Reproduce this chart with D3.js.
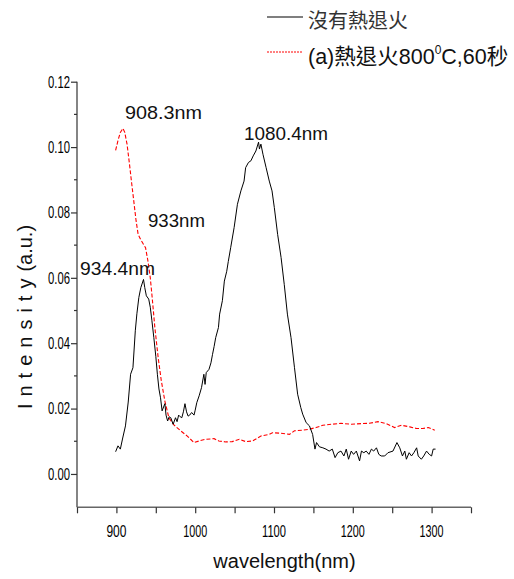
<!DOCTYPE html>
<html><head><meta charset="utf-8">
<script src="https://cdn.jsdelivr.net/npm/d3@7"></script>
<style>
html,body{margin:0;padding:0;background:#fff;}
svg{display:block;font-family:"Liberation Sans",Arial,"Noto Sans CJK TC",sans-serif;}
</style></head>
<body><svg id="chart" width="514" height="579"></svg>
<script>
// ---- data ----
const blackNm = [899,902,905,908,911.5,915,918,921,924,926,928.5,931,934.4,936,938,941,943,945,947.5,950,952,954,956,958,961.5,963,965,967,969,972,975,977,979,981,983,985,987,989,991,993,995.5,998.5,1000,1002,1005,1008,1011,1012.5,1014,1017.5,1020,1022,1024,1026,1029.5,1031,1034.5,1037,1040,1042,1045,1049.4,1053.6,1058,1062,1064,1067.6,1070.7,1073.6,1077,1080.4,1081.5,1083.4,1086,1090,1094,1097.5,1100.4,1104.6,1109,1113,1117,1121.6,1126,1130,1134,1136.4,1140.8,1145,1149,1152,1154,1157.7,1162,1166,1170,1174,1177.5,1181,1185,1188.7,1191.7,1194.6,1198,1201,1204.5,1208.6,1211,1214,1217,1220.5,1223.6,1226.5,1230,1233,1236,1240.5,1244.6,1251,1256,1259.6,1263,1266,1268,1271.5,1274.5,1277.5,1281,1283,1287,1290,1293.6,1297,1300,1302,1305];
const blackVal = [0.0068,0.0086,0.0076,0.011,0.0147,0.022,0.0305,0.0325,0.0438,0.049,0.054,0.057,0.0595,0.057,0.0545,0.0535,0.051,0.047,0.0417,0.036,0.0305,0.026,0.0233,0.0193,0.0215,0.018,0.0162,0.0175,0.0172,0.0152,0.0172,0.016,0.018,0.0175,0.0172,0.019,0.0215,0.019,0.0177,0.018,0.0188,0.018,0.0195,0.0218,0.0239,0.0264,0.0305,0.0274,0.031,0.032,0.034,0.0366,0.039,0.0417,0.0448,0.0489,0.053,0.059,0.062,0.065,0.0692,0.0754,0.0825,0.0866,0.0896,0.0937,0.0953,0.0958,0.0973,0.0988,0.1015,0.0994,0.1009,0.0978,0.0937,0.0896,0.0866,0.0815,0.0733,0.0662,0.058,0.0489,0.0417,0.0325,0.0244,0.0203,0.0183,0.0157,0.0147,0.0121,0.0076,0.0096,0.0083,0.008,0.0076,0.007,0.0076,0.005,0.0065,0.007,0.0055,0.0076,0.0045,0.007,0.006,0.007,0.004,0.007,0.0065,0.007,0.006,0.0076,0.007,0.008,0.006,0.0055,0.0055,0.0065,0.007,0.0096,0.008,0.0055,0.007,0.0045,0.0065,0.0055,0.0065,0.008,0.0055,0.0045,0.0055,0.007,0.006,0.0055,0.0076,0.0076];
const redNm = [899,902,905,908.3,910.6,913.5,916.6,919,922,925,927.6,930.6,933,937,940,943,945.4,948.8,953,957,961.5,966.6,973,981.5,990,998.5,1005,1013,1024,1030,1039,1047,1056,1064,1073,1083.4,1094,1098,1106.7,1115,1119.5,1126,1136.4,1145,1153.5,1162,1172.6,1185,1198,1211,1221,1232,1242.6,1253,1262,1272.4,1281,1289,1296,1304];
const redVal = [0.099,0.102,0.1045,0.1057,0.1045,0.1009,0.0948,0.0897,0.0836,0.0774,0.0733,0.0718,0.0708,0.0692,0.0652,0.06,0.054,0.0448,0.0356,0.0285,0.0223,0.0172,0.015,0.0132,0.0116,0.0096,0.0101,0.0106,0.0108,0.0101,0.0098,0.0099,0.0106,0.0099,0.0101,0.0116,0.0121,0.0126,0.0125,0.0123,0.0121,0.0132,0.0134,0.0137,0.0142,0.0149,0.0152,0.0155,0.0152,0.0154,0.0155,0.016,0.0154,0.0142,0.0149,0.0144,0.0139,0.0139,0.0142,0.0134];
const xMajorTicks = [900,1000,1100,1200,1300];
const xMinorTicks = [850,950,1050,1150,1250,1350];
const yMajorTicks = [0.00,0.02,0.04,0.06,0.08,0.10,0.12];
const yMinorTicks = [0.01,0.03,0.05,0.07,0.09,0.11];
const yTickLabels = ["0.00","0.02","0.04","0.06","0.08","0.10","0.12"];
const legendLabels = ["沒有熱退火", "(a)熱退火800", "0", "C,60秒"];
const peakLabels = [
  {text:"908.3nm", nm:908.3, v:0.1057},
  {text:"1080.4nm", nm:1080.4, v:0.1015},
  {text:"933nm", nm:933, v:0.0708},
  {text:"934.4nm", nm:934.4, v:0.0595}
];

// ---- chart ----
const svg = d3.select("#chart");
const x = d3.scaleLinear().domain([850,1350]).range([77,471]);
const y = d3.scaleLinear().domain([-0.0102,0.12]).range([507.3,81.7]);
const axisColor = "#666";

// x axis
const gx = svg.append("g").attr("transform","translate(0,507.3)");
gx.call(d3.axisBottom(x).tickValues(xMajorTicks.concat(xMinorTicks)).tickSize(6).tickFormat(""))
gx.select(".domain").attr("stroke",axisColor).attr("stroke-width",1.6).attr("d","M77,0H471");
gx.selectAll(".tick line").attr("stroke","#333").attr("stroke-width",1.2);
gx.selectAll(".xlab").data(xMajorTicks).enter().append("text")
  .attr("x",d=>x(d)).attr("y",29.5).attr("text-anchor","middle")
  .attr("font-size",16.5).attr("fill","#000")
  .attr("textLength",d=>String(d).length>3?24:20).attr("lengthAdjust","spacingAndGlyphs")
  .text(d=>String(d));

// y axis
const gy = svg.append("g").attr("transform","translate(77,0)");
gy.call(d3.axisLeft(y).tickValues(yMajorTicks).tickSize(6).tickFormat(""));
gy.select(".domain").attr("stroke",axisColor).attr("stroke-width",1.6).attr("d","M0,81.7V507.3");
gy.selectAll(".tick line").attr("stroke","#333").attr("stroke-width",1.2);
gy.selectAll(".minor").data(yMinorTicks).enter().append("line").attr("class","minor")
  .attr("x1",-3).attr("x2",0).attr("y1",d=>y(d)).attr("y2",d=>y(d))
  .attr("stroke","#333").attr("stroke-width",1.2);
gy.selectAll(".ylab").data(yMajorTicks).enter().append("text")
  .attr("x",-7).attr("y",d=>y(d)+5.8).attr("text-anchor","end")
  .attr("font-size",16.5).attr("fill","#000")
  .attr("textLength",22).attr("lengthAdjust","spacingAndGlyphs")
  .text((d,i)=>yTickLabels[i]);

// axis titles
svg.append("text").attr("x",284.5).attr("y",568).attr("text-anchor","middle")
  .attr("font-size",20).attr("fill","#111").text("wavelength(nm)");
const yt = svg.append("text").attr("transform","translate(32,317) rotate(-90)")
  .attr("text-anchor","middle").attr("font-size",20).attr("fill","#111");
yt.append("tspan").attr("letter-spacing",7).text("Intensity");
yt.append("tspan").text("(a.u.)");

// lines
const line = d3.line().x(d=>x(d[0])).y(d=>y(d[1]));
const blackData = blackNm.map((n,i)=>[n,blackVal[i]]);
const redData = redNm.map((n,i)=>[n,redVal[i]]);
svg.append("path").datum(redData).attr("d",line).attr("fill","none")
  .attr("stroke","#ff0000").attr("stroke-width",1.1).attr("stroke-dasharray","4,2");
svg.append("path").datum(blackData).attr("d",line).attr("fill","none")
  .attr("stroke","#000").attr("stroke-width",1);

// peak labels
const peakPos = {"908.3nm":[125,119,77],"1080.4nm":[244,140,84],"933nm":[148,226.5,57],"934.4nm":[80,275,75]};
svg.selectAll(".peak").data(peakLabels).enter().append("text")
  .attr("x",d=>peakPos[d.text][0]).attr("y",d=>peakPos[d.text][1])
  .attr("font-size",19).attr("fill","#111")
  .attr("textLength",d=>peakPos[d.text][2]).attr("lengthAdjust","spacingAndGlyphs")
  .text(d=>d.text);

// legend
svg.append("line").attr("x1",267).attr("x2",303).attr("y1",17).attr("y2",17)
  .attr("stroke","#000").attr("stroke-width",1.2);
svg.append("line").attr("x1",267).attr("x2",303).attr("y1",52).attr("y2",52)
  .attr("stroke","#ff0000").attr("stroke-width",1).attr("stroke-dasharray","2,1");
svg.append("text").attr("x",308).attr("y",28).attr("font-size",20).attr("fill","#333")
  .text(legendLabels[0]);
const l2 = svg.append("text").attr("x",308).attr("y",64).attr("font-size",21.5).attr("fill","#111");
l2.append("tspan").text(legendLabels[1]);
l2.append("tspan").attr("font-size",12).attr("dy",-10).text(legendLabels[2]);
l2.append("tspan").attr("dy",10).text(legendLabels[3]);
</script></body></html>
